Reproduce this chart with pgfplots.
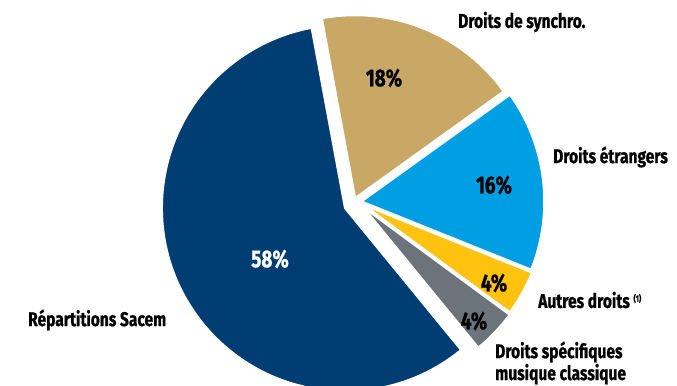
\documentclass[border=0pt]{standalone}
\usepackage{pgfplots}
\usepackage{pgfplotstable}
\pgfplotsset{compat=1.18}
\usepackage{fontspec}
\setmainfont[FakeStretch=0.78, BoldFeatures={FakeBold=0.8}]{Fira Sans}
\definecolor{pc0}{HTML}{C8A864}
\definecolor{pc1}{HTML}{009EE2}
\definecolor{pc2}{HTML}{FFC20E}
\definecolor{pc3}{HTML}{6C737A}
\definecolor{pc4}{HTML}{003D73}

% value in %, dx dy = offset of each slice's centre (exploded layout)
\pgfplotstableread{
name value dx dy
synchro 18 -1 4.5
etrangers 16 5 1.5
autres 4 6 -1
classique 4 6 -3
sacem 58 -10.8 -5
}\piedata

\tikzset{
  lab/.style={font=\fontsize{20}{22}\selectfont\bfseries, anchor=west, inner sep=0pt},
  pct/.style={font=\fontsize{24.5}{26}\selectfont\bfseries}
}

% precompute slice angles and centres from the table
\def\pieCx{356}\def\pieCy{183}
\def\pieCur{100.5}
\pgfplotsforeachungrouped \pieI in {0,...,4}{%
  \pgfplotstablegetelem{\pieI}{value}\of\piedata \edef\pieVal{\pgfplotsretval}%
  \pgfplotstablegetelem{\pieI}{dx}\of\piedata \edef\pieDx{\pgfplotsretval}%
  \pgfplotstablegetelem{\pieI}{dy}\of\piedata \edef\pieDy{\pgfplotsretval}%
  \pgfmathsetmacro\pieEnd{\pieCur-3.6*\pieVal}%
  \pgfmathsetmacro\pieX{\pieCx+\pieDx}%
  \pgfmathsetmacro\pieY{\pieCy+\pieDy}%
  \expandafter\xdef\csname pieA\pieI\endcsname{\pieCur}%
  \expandafter\xdef\csname pieB\pieI\endcsname{\pieEnd}%
  \expandafter\xdef\csname pieX\pieI\endcsname{\pieX}%
  \expandafter\xdef\csname pieY\pieI\endcsname{\pieY}%
  \xdef\pieCur{\pieEnd}%
}
\newcommand\pieslice[1]{%
  \edef\pieTmp{\noexpand\filldraw[fill=pc#1, draw=white, line width=2.5bp]
    (axis cs:\csname pieX#1\endcsname,\csname pieY#1\endcsname)
    -- ++(\csname pieA#1\endcsname:183.5bp)
    arc[start angle=\csname pieA#1\endcsname, end angle=\csname pieB#1\endcsname, radius=183.5bp]
    -- cycle;}%
  \pieTmp}

\begin{document}
\begin{tikzpicture}
\begin{axis}[name=ax,
  width=677bp, height=386bp, scale only axis,
  xmin=0, xmax=677, ymin=0, ymax=386,
  axis lines=none, ticks=none]
\pieslice{0}
\pieslice{1}
\pieslice{2}
\pieslice{3}
\pieslice{4}
\node[pct, text=white] at (axis cs:270,127) {58\%};
\node[pct] at (axis cs:384,308) {18\%};
\node[pct] at (axis cs:494,201) {16\%};
\node[pct] at (axis cs:494,103) {4\%};
\node[pct] at (axis cs:474,65) {4\%};
\node[lab] at (axis cs:458,364) {Droits de synchro.};
\node[lab] at (axis cs:553,229) {Droits étrangers};
\node[lab] at (axis cs:538,86) {Autres droits \raisebox{0.6ex}{\fontsize{9}{10}\selectfont(1)}};
\node[lab, align=left] at (axis cs:495,23) {Droits spécifiques\\musique classique};
\node[lab] at (axis cs:28,66) {Répartitions Sacem};
\end{axis}
\pgfresetboundingbox
\useasboundingbox (ax.south west) rectangle (ax.north east);
\end{tikzpicture}
\end{document}
